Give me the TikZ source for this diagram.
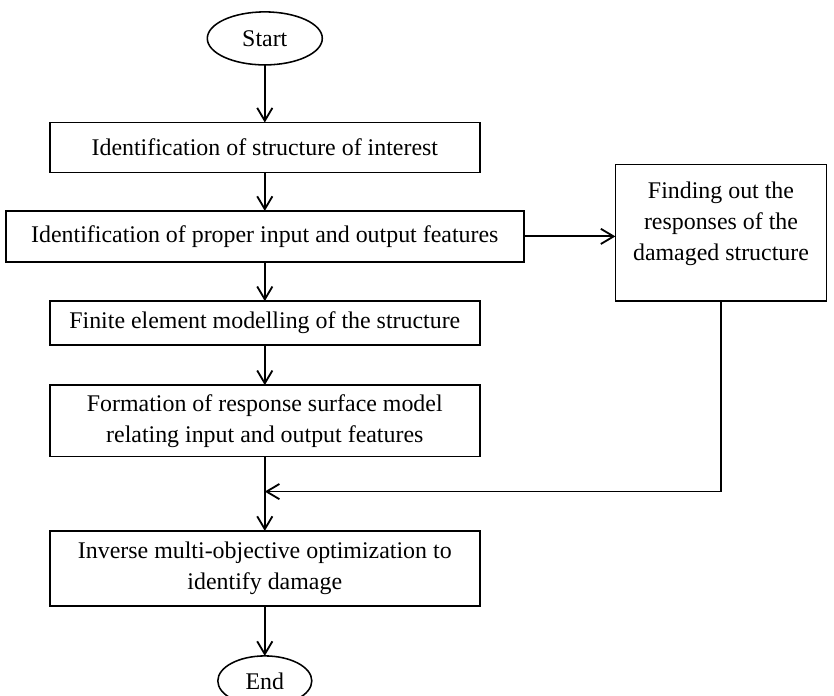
\documentclass[tikz,border=0pt]{standalone}
\usepackage{fontspec}
\setmainfont{Liberation Serif}
\usetikzlibrary{arrows.meta, positioning, shapes.geometric, calc}

\begin{document}
\begin{tikzpicture}[
  normal/.style={line width=1.3pt, -{Straight Barb[length=3.2mm, width=3.8mm]}},
  box/.style={
    draw,
    line width=1.1pt,
    rectangle,
    minimum width=10.75cm,
    minimum height=1.25cm,
    inner sep=0pt,
    outer sep=0pt,
    align=center,
    font=\fontsize{17}{22}\selectfont
  },
  terminal/.style={
    draw,
    line width=1.1pt,
    ellipse,
    minimum width=2.875cm,
    minimum height=1.325cm,
    inner sep=0pt,
    outer sep=0pt,
    font=\fontsize{17}{22}\selectfont
  }
]

  \useasboundingbox (0,0) rectangle (20.85,-17.375);

  \node[terminal] (start) at (6.62,-0.96) {Start};

  \node[box, below=1.44cm of start] (ident) {Identification of structure of interest};
  \draw[normal] (start) -- (ident);

  \node[box, below=0.96cm of ident, minimum width=12.95cm, minimum height=1.275cm] (features)
    {Identification of proper input and output features};
  \draw[normal] (ident) -- (features);

  % side branch on the right
  \node[box, right=2.29cm of features, yshift=0.09cm, minimum width=5.28cm, minimum height=3.42cm] (resp)
    {Finding out the\\responses of the\\damaged structure\\[-5.4pt]\mbox{}};
  \draw[normal] (features.east) -- (features.east -| resp.west);

  \node[box, below=0.98cm of features, minimum height=1.1cm] (fem)
    {Finite element modelling of the structure};
  \draw[normal] (features) -- (fem);

  \node[box, below=1cm of fem, minimum height=1.79cm] (rsm)
    {Formation of response surface model\\relating input and output features};
  \draw[normal] (fem) -- (rsm);

  \node[box, below=1.855cm of rsm, minimum height=1.875cm] (inverse)
    {Inverse multi-objective optimization to\\identify damage};
  \draw[normal] (rsm) -- (inverse);

  % feedback joins the main line
  \coordinate (join) at ($(rsm.south)!0.47!(inverse.north)$);
  \draw[normal] (resp.south) |- (join);

  \node[terminal, below=1.25cm of inverse, minimum width=2.35cm, minimum height=1.25cm] (end) {End};
  \draw[normal] (inverse) -- (end);

\end{tikzpicture}
\end{document}
